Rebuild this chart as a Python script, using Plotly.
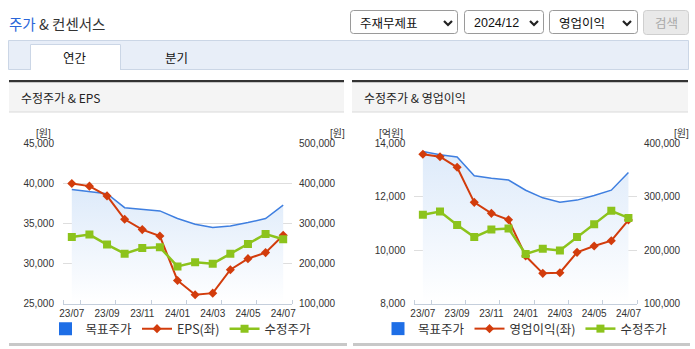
import plotly.graph_objects as go

# ---------------- data ----------------
months = ['23/07', '23/08', '23/09', '23/10', '23/11', '23/12', '24/01',
          '24/02', '24/03', '24/04', '24/05', '24/06', '24/07']
tick_labels = ['23/07', '23/09', '23/11', '24/01', '24/03', '24/05', '24/07']
target_price = [384250, 378250, 373750, 338750, 334250, 330750, 311750,
                297500, 289250, 293250, 301750, 311750, 345000]      # 목표주가 (원)
adj_price = [265750, 271750, 246750, 224250, 238250, 240000, 192500,
             202500, 199250, 224250, 248250, 273250, 260000]         # 수정주가 (원)
eps = [39960, 39625, 38410, 35500, 34210, 33410, 27875,
       26090, 26290, 29210, 30590, 31340, 33500]                     # EPS (원)
op_income = [13577, 13488, 13091, 11782, 11370, 11130, 9774,
             9127, 9150, 9912, 10148, 10346, 11120]                  # 영업이익 (억원)

# ---------------- style ----------------
W, H = 695, 349
KR = 'Noto Sans CJK KR'
NUM = 'Liberation Sans Narrow, Liberation Sans, Arial'
BLUE_LINE = '#3f7fe0'
BLUE_LEG = '#1e6ee6'
RED = '#d23c0c'
GREEN = '#8cc31c'
GRID = '#dedede'
AXLINE = '#c5cfdc'
TXT = '#333333'

x_idx = list(range(len(months)))
tick_idx = [months.index(t) for t in tick_labels]
minor_ticks = [-0.5] + [i + 0.5 for i in range(0, len(months), 2)]


def P(x):
    return x / W


def Q(y):
    return 1 - y / H


Y_TOP, Y_BOT = 143, 303.5
ydom = [Q(Y_BOT), Q(Y_TOP)]

fig = go.Figure()

fill_grad = dict(type='vertical',
                 colorscale=[[0, 'rgba(255,255,255,1)'], [1, 'rgba(221,234,250,1)']],
                 start=100000, stop=390000)


def add_chart(xa, ya_base, ya_left, ya_green, legend, left_vals, left_name):
    fig.add_trace(go.Scatter(x=x_idx, y=target_price, xaxis=xa, yaxis=ya_base,
                             mode='lines', fill='tozeroy', fillgradient=fill_grad,
                             line=dict(color=BLUE_LINE, width=1.5),
                             showlegend=False, hoverinfo='skip'))
    fig.add_trace(go.Scatter(x=[None], y=[None], xaxis=xa, yaxis=ya_base,
                             mode='markers', name='목표주가', legend=legend,
                             marker=dict(symbol='square', size=13, color=BLUE_LEG)))
    fig.add_trace(go.Scatter(x=x_idx, y=left_vals, xaxis=xa, yaxis=ya_left,
                             mode='lines+markers', name=left_name, legend=legend,
                             line=dict(color=RED, width=2),
                             marker=dict(symbol='diamond', size=7, color=RED)))
    fig.add_trace(go.Scatter(x=x_idx, y=adj_price, xaxis=xa, yaxis=ya_green,
                             mode='lines+markers', name='수정주가', legend=legend,
                             line=dict(color=GREEN, width=2.5),
                             marker=dict(symbol='square', size=8, color=GREEN)))


add_chart('x', 'y', 'y2', 'y3', 'legend', eps, 'EPS(좌)')
add_chart('x2', 'y4', 'y5', 'y6', 'legend2', op_income, '영업이익(좌)')

tickfont = dict(family=NUM, size=10, color=TXT)


def xaxis_cfg(x0, x1, anchor):
    return dict(domain=[P(x0), P(x1)], anchor=anchor, range=[-0.5, len(months) - 0.5],
                showline=True, linecolor=AXLINE, linewidth=1, showgrid=False,
                zeroline=False, tickmode='array', tickvals=tick_idx, ticktext=tick_labels,
                ticks='', tickfont=tickfont, fixedrange=True, automargin=False,
                minor=dict(tickmode='array', tickvals=minor_ticks, ticks='inside',
                           ticklen=4, tickcolor=AXLINE, tickwidth=1))


def yaxis_base(anchor, rng, dtick):
    return dict(domain=ydom, anchor=anchor, side='right', range=rng, dtick=dtick,
                tick0=0, tickformat=',', showgrid=True, gridcolor=GRID, gridwidth=1,
                zeroline=False, showline=False, ticks='', tickfont=tickfont,
                ticklabelstandoff=6, fixedrange=True, automargin=False)


def yaxis_left(over, anchor, rng, dtick):
    return dict(overlaying=over, anchor=anchor, side='left', range=rng, dtick=dtick,
                tick0=0, tickformat=',', showgrid=False, zeroline=False, showline=False,
                ticks='', tickfont=tickfont, ticklabelstandoff=8, fixedrange=True,
                automargin=False)


def yaxis_hidden(over, anchor, rng):
    return dict(overlaying=over, anchor=anchor, side='right', range=rng, visible=False,
                fixedrange=True, automargin=False)


# ---------------- decorations ----------------
shapes = []
annotations = []


def rect(x0, y0, x1, y1, fill, line=None, lw=1):
    shapes.append(dict(type='rect', xref='paper', yref='paper',
                       x0=P(x0), x1=P(x1), y0=Q(y1), y1=Q(y0),
                       fillcolor=fill, line=dict(color=line or 'rgba(0,0,0,0)',
                                                 width=lw if line else 0)))


def rrect(x0, y0, x1, y1, r, fill, line, lw=1):
    path = (f"M {P(x0 + r)},{Q(y0)} L {P(x1 - r)},{Q(y0)} Q {P(x1)},{Q(y0)} {P(x1)},{Q(y0 + r)} "
            f"L {P(x1)},{Q(y1 - r)} Q {P(x1)},{Q(y1)} {P(x1 - r)},{Q(y1)} "
            f"L {P(x0 + r)},{Q(y1)} Q {P(x0)},{Q(y1)} {P(x0)},{Q(y1 - r)} "
            f"L {P(x0)},{Q(y0 + r)} Q {P(x0)},{Q(y0)} {P(x0 + r)},{Q(y0)} Z")
    shapes.append(dict(type='path', xref='paper', yref='paper', path=path,
                       fillcolor=fill, line=dict(color=line, width=lw)))


def poly(pts, color, lw):
    path = 'M ' + ' L '.join(f"{P(x)},{Q(y)}" for x, y in pts)
    shapes.append(dict(type='path', xref='paper', yref='paper', path=path,
                       line=dict(color=color, width=lw)))


def text(x, y, s, size=12, color=TXT, xanchor='left', family=KR):
    annotations.append(dict(xref='paper', yref='paper', x=P(x), y=Q(y), text=s,
                            showarrow=False, xanchor=xanchor, yanchor='middle',
                            font=dict(family=family, size=size, color=color)))


# title
text(7, 24, "<span style='color:#2a66d9'>주가</span> & 컨센서스", size=14.5)

# dropdowns
for (x0, x1, label, chev) in [(350.5, 457.5, '주재무제표', 448),
                              (464.5, 543.5, '2024/12', 534),
                              (549.5, 637.5, '영업이익', 627)]:
    rrect(x0, 10.5, x1, 33.5, 3, '#ffffff', '#9a9a9a')
    text(x0 + 7, 23, label, size=12.5, color='#111111',
         family=('Liberation Sans, ' + KR) if label[0].isdigit() else KR)
    poly([(chev - 4, 21), (chev, 25), (chev + 4, 21)], '#222222', 2.2)
rrect(643.5, 10.5, 688.5, 34.5, 3, '#e9e9e9', '#cfcfcf')
text(666, 22.5, '검색', size=12.5, color='#a8a8a8', xanchor='center')

# tab bar
rect(8.5, 40.5, 688.5, 69.5, '#e8eef8', '#cbd6e6')
rect(30, 44.5, 121, 70, '#ffffff')
poly([(30.5, 70), (30.5, 44.5), (120.5, 44.5), (120.5, 70)], '#cbd6e6', 1)
text(75, 57, '연간', size=12.5, color='#111111', xanchor='center')
text(176, 57, '분기', size=12.5, color='#111111', xanchor='center')

# panel headers and bottom lines
for (x0, x1, title) in [(9, 344, '수정주가 & EPS'), (352, 688, '수정주가 & 영업이익')]:
    rect(x0, 80, x1, 82.5, '#333333')
    rect(x0, 82.5, x1, 112, '#f4f4f4')
    rect(x0, 111.5, x1, 112.5, '#dadada')
    text(x0 + 10, 97, title, size=12, color='#222222')
rect(9, 343, 347, 346, '#c8c8c8')
rect(353, 343, 690, 346, '#c8c8c8')

# unit labels
text(53, 133, '[원]', size=10, xanchor='right', family='Liberation Sans, ' + KR)
text(328, 133, '[원]', size=10, xanchor='left', family='Liberation Sans, ' + KR)
text(405, 133, '[억원]', size=10, xanchor='right', family='Liberation Sans, ' + KR)
text(672, 133, '[원]', size=10, xanchor='left', family='Liberation Sans, ' + KR)

leg_common = dict(orientation='h', xanchor='center', yanchor='middle', y=Q(329),
                  font=dict(family=KR, size=12.5, color=TXT),
                  bgcolor='rgba(0,0,0,0)', itemwidth=30, itemclick=False,
                  itemdoubleclick=False)

fig.update_layout(
    width=W, height=H, autosize=False,
    margin=dict(l=0, r=0, t=0, b=0, pad=0, autoexpand=False),
    paper_bgcolor='#ffffff', plot_bgcolor='#ffffff',
    showlegend=True,
    legend=dict(x=P(181), **leg_common),
    legend2=dict(x=P(525), **leg_common),
    xaxis=xaxis_cfg(63, 292, 'y'),
    xaxis2=xaxis_cfg(414.3, 637, 'y4'),
    yaxis=yaxis_base('x', [100000, 500000], 100000),
    yaxis2=yaxis_left('y', 'x', [25000, 45000], 5000),
    yaxis3=yaxis_hidden('y', 'x', [100000, 500000]),
    yaxis4=yaxis_base('x2', [100000, 400000], 100000),
    yaxis5=yaxis_left('y4', 'x2', [8000, 14000], 2000),
    yaxis6=yaxis_hidden('y4', 'x2', [100000, 400000]),
    shapes=shapes,
    annotations=annotations,
    hovermode=False,
)

fig.write_html("out.html", config={'displayModeBar': False})
